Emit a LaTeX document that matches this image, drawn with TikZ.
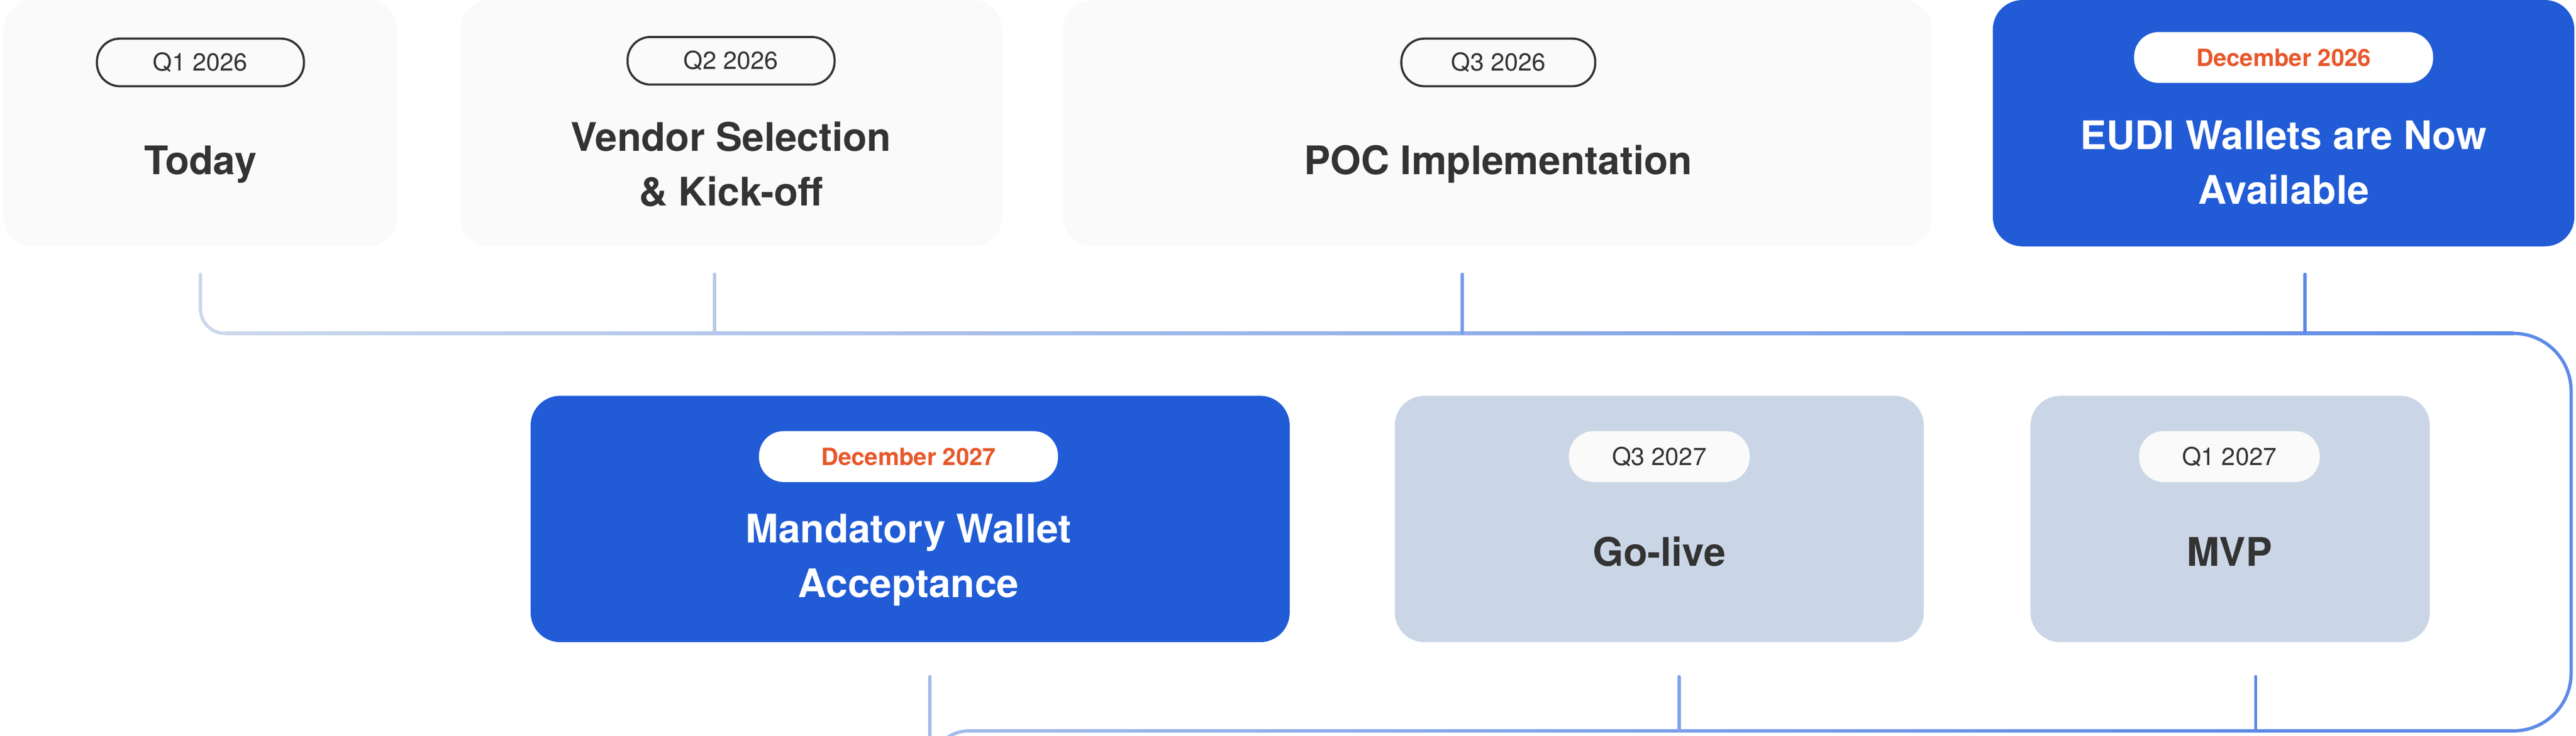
\documentclass[tikz,border=0pt]{standalone}
\usepackage{fontspec}
\setmainfont{TeX Gyre Heros}
\begin{document}
\begin{tikzpicture}[x=1pt,y=-1pt,
  card/.style={rounded corners=18pt,inner sep=0},
  lightcard/.style={card,fill=cardgray},
  bluecard/.style={card,fill=cardblue},
  paecard/.style={card,fill=cardpale},
  pillout/.style={draw=txt,line width=1.3pt,rounded corners=14pt,minimum height=29pt,font=\fontsize{15}{18}\selectfont,text=txt},
  pillwhite/.style={fill=cardgray,rounded corners=15pt,minimum height=31pt,font=\fontsize{15}{18}\selectfont,text=txt},
  pillorange/.style={fill=white,rounded corners=15pt,minimum height=31pt,font=\bfseries\fontsize{14.5}{18}\selectfont,text=orangetxt},
  title/.style={font=\bfseries\fontsize{24}{33}\selectfont,text=txt,align=center},
  wtitle/.style={title,text=white},
  conn/.style={line width=2pt,line cap=round}]
\definecolor{txt}{HTML}{333333}
\definecolor{cardgray}{HTML}{FAFAFA}
\definecolor{cardblue}{HTML}{215BD6}
\definecolor{cardpale}{HTML}{CAD6E6}
\definecolor{orangetxt}{HTML}{E8572A}
\definecolor{lineA}{HTML}{CBD8EC}
\definecolor{lineB}{HTML}{5E8BE6}
\definecolor{lineM}{HTML}{A2BBEA}
\useasboundingbox (0,0) rectangle (1568,448);
% top cards
\fill[lightcard] (2,0) rectangle (242,150);
\fill[lightcard] (280,0) rectangle (610,150);
\fill[lightcard] (647,0) rectangle (1176,150);
\fill[bluecard] (1213,0) rectangle (1567,150);
\node[pillout,minimum width=126pt] (p1) at (122,38) {Q1 2026};
\node[pillout,minimum width=126pt] (p2) at (445,37) {Q2 2026};
\node[pillout,minimum width=118pt] (p3) at (912,38) {Q3 2026};
\node[pillorange,minimum width=182pt] (p4) at (1390,35) {December 2026};
\node[title] (t1) at (122,100) {Today};
\node[title] (t2) at (445,100) {Vendor Selection\\\& Kick-off};
\node[title] (t3) at (912,100) {POC Implementation};
\node[wtitle] (t4) at (1390,99) {EUDI Wallets are Now\\Available};
% bottom cards
\fill[bluecard] (323,241) rectangle (785,391);
\fill[paecard] (849,241) rectangle (1171,391);
\fill[paecard] (1236,241) rectangle (1479,391);
\node[pillorange,minimum width=182pt] (p5) at (553,278) {December 2027};
\node[pillwhite,minimum width=110pt] (p6) at (1010,278) {Q3 2027};
\node[pillwhite,minimum width=110pt] (p7) at (1357,278) {Q1 2027};
\node[wtitle] (t5) at (553,341) {Mandatory Wallet\\Acceptance};
\node[title] (t6) at (1010,336) {Go-live};
\node[title] (t7) at (1357,336) {MVP};
% connectors
\coordinate (a0) at (122,167);
\coordinate (a1) at (1530,203);
\draw[conn,lineA] (a0) -- (122,188) arc[start angle=180,end angle=90,radius=15] -- (150,203);
\shade[left color=lineA,right color=lineB] (137,202) rectangle (1530,204);
\draw[conn,lineB] (a1) arc[start angle=-90,end angle=0,radius=35] -- (1565,410) arc[start angle=0,end angle=90,radius=35] -- (1373,445);
\shade[left color=lineM,right color=lineB] (600,444) rectangle (1374,446);
\draw[conn,lineM] (600,445) -- (590,445) arc[start angle=270,end angle=180,radius=24] -- (566,412);
\draw[conn,lineA!50!lineM] (435,167) -- (435,203);
\draw[conn,lineM!40!lineB] (890,167) -- (890,203);
\draw[conn,lineB] (1403,167) -- (1403,203);
\draw[conn,lineM!50!lineB] (1022,412) -- (1022,445);
\draw[conn,lineB] (1373,412) -- (1373,445);
\end{tikzpicture}
\end{document}
